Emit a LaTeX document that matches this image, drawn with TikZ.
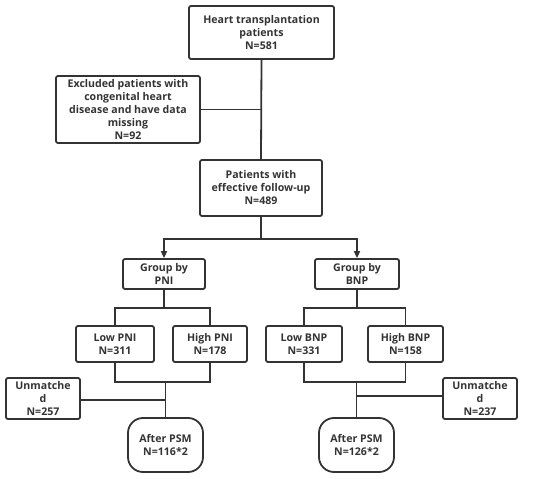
\documentclass[tikz,border=0pt]{standalone}
\usepackage{fontspec}
\setmainfont{Open Sans}
\usetikzlibrary{arrows.meta}
\definecolor{ink}{HTML}{333333}
\begin{document}
\begin{tikzpicture}[x=1pt,y=-1pt,
  box/.style={draw=ink,line width=1.8pt,rounded corners=2pt,align=center,inner sep=0pt,
    font=\fontsize{10.6}{13}\selectfont\bfseries,text=ink},
  psm/.style={box,rounded corners=15pt},
  conn/.style={draw=ink,line width=1.8pt},
  arr/.style={conn,-{Triangle[length=7pt,width=6pt]}}]
\useasboundingbox (0,0) rectangle (550,479);
\node[box,minimum width=145pt,minimum height=53pt] (heart) at (261.5,32.5) {Heart transplantation\\patients\\N=581};
\node[box,minimum width=144pt,minimum height=67pt] (excl) at (128,109.5) {Excluded patients with\\congenital heart\\disease and have data\\missing\\N=92};
\node[box,minimum width=122pt,minimum height=56pt] (pat) at (261,188) {Patients with\\effective follow-up\\N=489};
\node[box,minimum width=82pt,minimum height=30pt] (gp) at (164,274) {Group by\\PNI};
\node[box,minimum width=84pt,minimum height=30pt] (gb) at (357,274) {Group by\\BNP};
\node[box,minimum width=78pt,minimum height=36pt] (lp) at (115,344) {Low PNI\\N=311};
\node[box,minimum width=74pt,minimum height=36pt] (hp) at (210,344) {High PNI\\N=178};
\node[box,minimum width=76pt,minimum height=36pt] (lb) at (304,344) {Low BNP\\N=331};
\node[box,minimum width=75pt,minimum height=36pt] (hb) at (405.5,344) {High BNP\\N=158};
\node[box,minimum width=74pt,minimum height=41pt] (ul) at (43,398.5) {Unmatche\\d\\N=257};
\node[box,minimum width=74pt,minimum height=41pt] (ur) at (480,398.5) {Unmatche\\d\\N=237};
\node[psm,minimum width=75pt,minimum height=54pt] (pl) at (165.5,445) {After PSM\\N=116*2};
\node[psm,minimum width=75pt,minimum height=54pt] (pr) at (356.5,445) {After PSM\\N=126*2};
\coordinate (j1) at (261,239);
\coordinate (j2) at (164,308);
\coordinate (j3) at (357,308);
\coordinate (k1) at (165.5,382);
\coordinate (k2) at (356.5,382);
\draw[conn] (heart.south) -- (pat.north);
\draw[conn] (excl.east) -- (excl.east -| heart.south);
\draw[conn] (pat.south) -- (j1);
\draw[arr] (j1) -| (gp.north);
\draw[arr] (j1) -| (gb.north);
\draw[conn] (gp.south) -- (j2);
\draw[conn] (j2) -| (lp.north);
\draw[conn] (j2) -| (hp.north);
\draw[conn] (gb.south) -- (j3);
\draw[conn] (j3) -| (lb.north);
\draw[conn] (j3) -| (hb.north);
\draw[conn] (lp.south) |- (k1) -| (hp.south);
\draw[conn] (lb.south) |- (k2) -| (hb.south);
\draw[conn] (k1) -- (pl.north);
\draw[conn] (k2) -- (pr.north);
\draw[conn] (ul.east) ++(0,1.5) -- (pl.north |- 0,400);
\draw[conn] (ur.west) ++(0,-2.5) -- (pr.north |- 0,396);
\end{tikzpicture}
\end{document}
